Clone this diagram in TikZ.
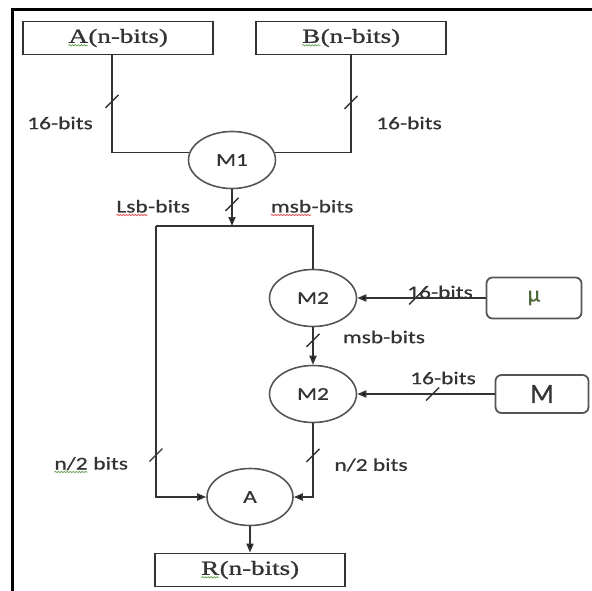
\documentclass[tikz,border=0pt]{standalone}
\usepackage{fontspec}
\newfontfamily\labfont[FakeStretch=1.3, FakeBold=0.6]{Carlito}
\newfontfamily\boxfont[FakeStretch=1.35, FakeBold=1.2]{Liberation Serif}
\newfontfamily\symfont[FakeBold=0.4]{Carlito}
\usetikzlibrary{arrows.meta,shapes.geometric,decorations.markings,decorations.pathmorphing}
\definecolor{ink}{HTML}{333333}
\definecolor{rim}{HTML}{555555}
\definecolor{squigred}{HTML}{E05050}
\definecolor{squiggreen}{HTML}{6AAA5A}
\definecolor{olive}{HTML}{4E6A3A}
% wavy spell-check underline under a word
\newcommand\spell[2]{\tikz[baseline=(w.base)]{\node[draw=none, fill=none, shape=rectangle, inner sep=0pt, outer sep=0pt, minimum width=0pt, minimum height=0pt, rounded corners=0pt] (w) {#2};
  \draw[draw=#1, line width=0.8pt, -, decorate, decoration={snake, amplitude=0.6pt, segment length=3pt}] ([yshift=-2.5pt]w.base west) -- ([yshift=-2.5pt]w.base east);}}
\tikzset{
  reg/.style={draw=ink, line width=1.8pt, rectangle, minimum width=190pt, minimum height=33pt, inner sep=0pt, font=\boxfont\fontsize{20}{22}\selectfont, text=ink},
  unit/.style={draw=rim, line width=1.6pt, ellipse, minimum width=87pt, minimum height=57pt, inner sep=0pt, font=\labfont\fontsize{18}{20}\selectfont, text=ink},
  const/.style={draw=rim, line width=1.8pt, rectangle, rounded corners=6pt, inner sep=0pt, text=ink},
  tag/.style={font=\labfont\fontsize{18}{20}\selectfont, text=ink, inner sep=0pt},
  wire/.style={draw=ink, line width=1.8pt},
  feed/.style={wire, -{Triangle[length=9pt,width=7pt]}},
  cut/.style={postaction={decorate, decoration={markings, mark=at position #1 with {\pgftransformresetnontranslations \draw[-, draw=ink, line width=1.4pt] (-6.5pt,-6.5pt) -- (6.5pt,6.5pt);}}}},
  frame/.style={draw=black, line width=3pt}
}
\begin{document}
\begin{tikzpicture}[x=1pt, y=-1pt]
  \useasboundingbox (0,0) rectangle (592,591);
  \draw[frame] (12,591) -- (12,10) -- (592,10);

  % registers and units
  \node[reg] (ain) at (118,38) {\spell{squiggreen}{A}(n-bits)};
  \node[reg] (bin) at (351,38) {\spell{squiggreen}{B}(n-bits)};
  \node[unit] (m1) at (232,160) {M1};
  \node[unit] (m2a) at (313,298) {M2};
  \node[unit] (m2b) at (313,394) {M2};
  \node[unit, minimum width=86pt] (add) at (250,497) {A};
  \node[reg] (res) at (250,570) {\spell{squiggreen}{R}(n-bits)};
  \node[const, minimum width=95pt, minimum height=41pt, font=\symfont\fontsize{23}{25}\selectfont, text=olive] (mu) at (534,298) {μ};
  \node[const, minimum width=93pt, minimum height=38pt, font=\symfont\fontsize{28}{30}\selectfont] (mod) at (542,394) {M};

  \coordinate (split) at (m1.south |- 0,226);
  \coordinate (lsb) at (156,226);

  % bus labels
  \node[tag] (wa) at (60,123) {16-bits};
  \node[tag] (wb) at (409,123) {16-bits};
  \node[tag] (lo) at (153,208) {\spell{squigred}{Lsb}-bits};
  \node[tag] (hi) at (312,208) {\spell{squigred}{msb}-bits};
  \node[tag] (wmu) at (440,292) {16-bits};
  \node[tag] (hi2) at (384,337) {msb-bits};
  \node[tag] (wm) at (443,378) {16-bits};
  \node[tag] (hl) at (91,465) {\spell{squiggreen}{n/2} bits};
  \node[tag] (hr) at (371,465) {n/2 bits};

  % connectors
  \draw[wire, cut=46pt] ([xshift=-6pt]ain.south) |- (m1.170);
  \draw[wire, cut=47pt] (bin.south) |- (m1.10);
  \draw[feed, cut=15pt] (m1.south) -- (split);
  \draw[wire] (lsb) -- (m2a.north |- lsb) -- (m2a.north);
  \draw[feed, cut=229pt] (lsb) |- (add.west);
  \draw[feed, cut=70pt] (mu.west) -- (m2a.east);
  \draw[feed, cut=13pt] (m2a.south) -- (m2b.north);
  \draw[feed, cut=62pt] (mod.west) -- (m2b.east);
  \draw[feed, cut=32pt] (m2b.south) |- (add.east);
  \draw[feed] (add.south) -- (res.north);
\end{tikzpicture}
\end{document}
